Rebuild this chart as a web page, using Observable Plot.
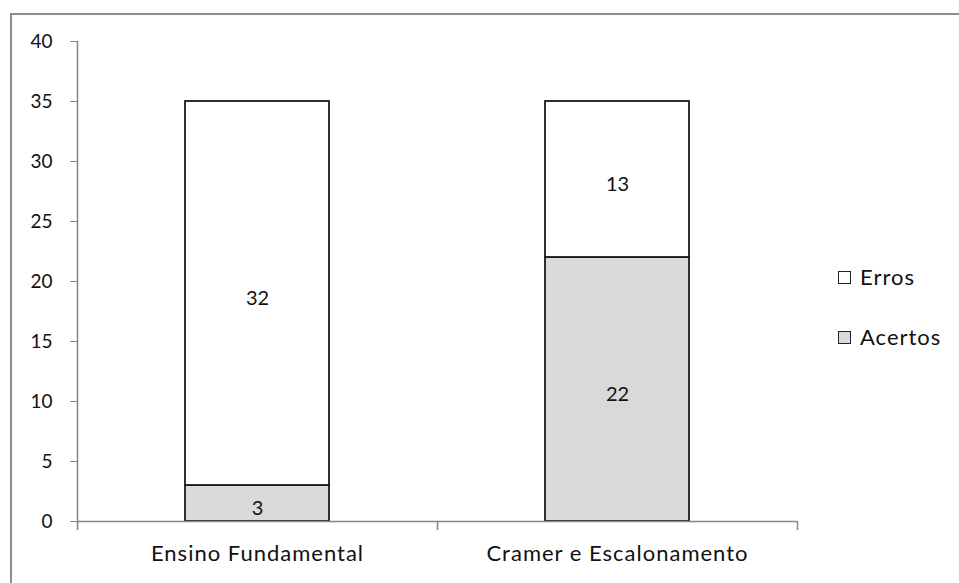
<!DOCTYPE html>
<html><head><meta charset="utf-8">
<script src="https://cdn.jsdelivr.net/npm/d3@7"></script>
<script src="https://cdn.jsdelivr.net/npm/@observablehq/plot@0.6"></script>
<style>
body{margin:0;background:#fff;}
#wrap{position:relative;width:959px;height:583px;overflow:hidden;font-family:Lato,"Open Sans",sans-serif;}
#frame{position:absolute;left:10px;top:13px;width:1200px;height:1200px;border:2px solid #8c8c8c;box-sizing:border-box;pointer-events:none;}
#chart{position:absolute;left:0;top:0;}
.leg{position:absolute;left:838px;font-size:22px;letter-spacing:1px;color:#111;display:flex;align-items:center;line-height:1;}
.sw{display:inline-block;width:11px;height:11px;border:1.5px solid #222;margin-right:9px;}
</style>
</head><body>
<div id="wrap"><div id="frame"></div><div id="chart"></div>
<div class="leg" id="leg0" style="top:266px"></div>
<div class="leg" id="leg1" style="top:326px"></div>
</div>
<script>
const categories = ["Ensino Fundamental", "Cramer e Escalonamento"];
const series = ["Acertos", "Erros"];
const acertos = [3, 22];
const erros = [32, 13];
const yTicks = [0, 5, 10, 15, 20, 25, 30, 35, 40];
const colors = ["#d9d9d9", "#ffffff"];

const data = [];
categories.forEach((c, i) => {
  data.push({cat: c, series: "Acertos", value: acertos[i]});
  data.push({cat: c, series: "Erros", value: erros[i]});
});

const axisGray = "#868686";

const plot = Plot.plot({
  width: 959, height: 583,
  marginLeft: 77, marginRight: 162, marginTop: 41, marginBottom: 62,
  style: {fontFamily: "Lato, 'Open Sans', sans-serif", fontSize: "19px", background: "transparent", color: "#111"},
  x: {domain: categories, paddingInner: 0.6, paddingOuter: 0.3, axis: null},
  y: {domain: [0, 40], axis: null},
  color: {domain: series, range: colors},
  marks: [
    Plot.barY(data, Plot.stackY({x: "cat", y: "value", z: "series", fill: "series", order: series, stroke: "#1a1a1a", strokeWidth: 1.8})),
    Plot.ruleY([0], {stroke: axisGray, strokeWidth: 1.5}),
    Plot.frame({anchor: "left", stroke: axisGray, strokeWidth: 1.5}),
    Plot.axisY({ticks: yTicks, tickSize: 7, tickPadding: 18, stroke: axisGray, fill: "#111", fontSize: 19, label: null}),
    Plot.ruleX(categories, {x: d => d, dx: -180, insetTop: 480, insetBottom: -9, stroke: axisGray, strokeWidth: 1.5}),
    Plot.ruleX(categories.slice(-1), {x: d => d, dx: 180, insetTop: 480, insetBottom: -9, stroke: axisGray, strokeWidth: 1.5}),
    Plot.axisX({tickSize: 0, tickPadding: 24, fill: "#111", fontSize: 22, label: null}),
    Plot.text(data, Plot.stackY({x: "cat", y: "value", z: "series", order: series, text: "value", fill: "#111", fontSize: 20, dy: 5}))
  ]
});
d3.select(plot).selectAll('g[aria-label="x-axis tick label"] text').style("letter-spacing", "1px");
document.getElementById("chart").appendChild(plot);

const legOrder = ["Erros", "Acertos"];
legOrder.forEach((s, i) => {
  const el = document.getElementById("leg" + i);
  const sw = document.createElement("span");
  sw.className = "sw";
  sw.style.background = colors[series.indexOf(s)];
  el.appendChild(sw);
  el.appendChild(document.createTextNode(s));
});
</script>
</body></html>
